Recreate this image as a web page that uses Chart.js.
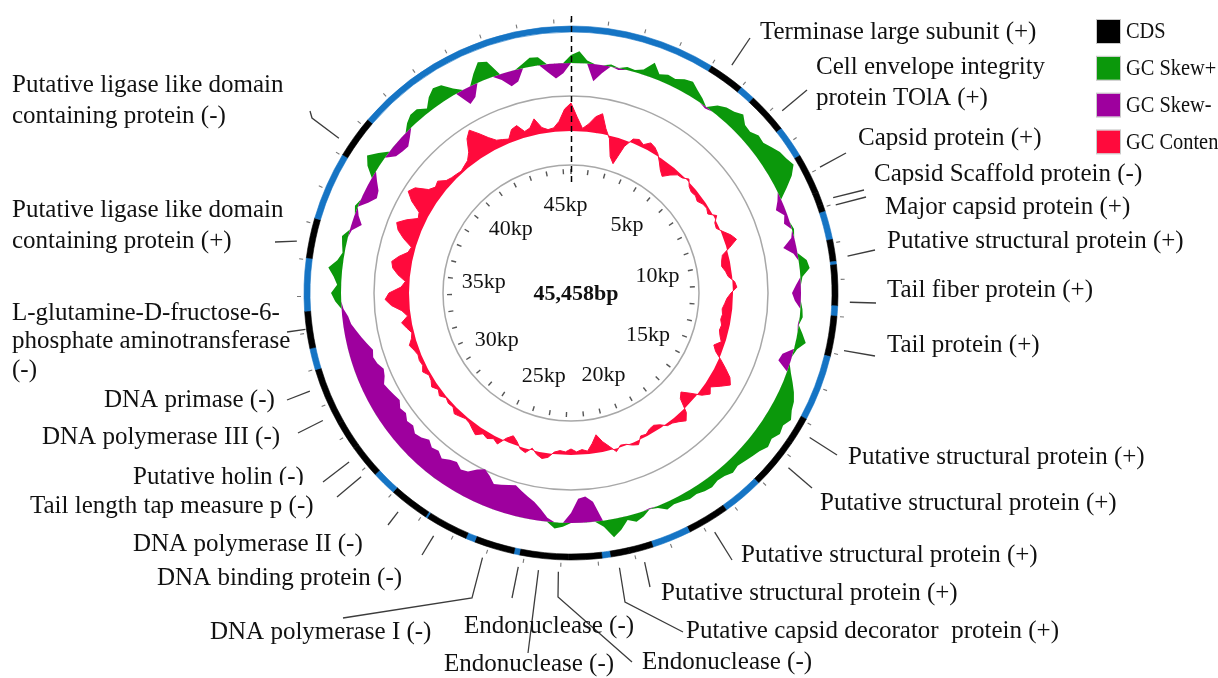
<!DOCTYPE html>
<html>
<head>
<meta charset="utf-8">
<title>Phage genome map</title>
<script src="https://cdn.jsdelivr.net/npm/chart.js@4.4.1/dist/chart.umd.min.js"></script>
<style>
  html, body { margin: 0; padding: 0; background: #ffffff; }
  #wrap { position: relative; width: 1218px; height: 678px; overflow: hidden; background: #ffffff; }
  #wrap canvas { position: absolute; left: 0; top: 0; }
</style>
</head>
<body>
<div id="wrap">
  <canvas id="ring" width="1218" height="678"></canvas>
  <canvas id="map" width="1218" height="678"></canvas>
</div>
<script>
// ---- genome ----
const genomeLength = 45458;

// coding regions [start, end] in bp
const cdsRegions = [
  [4015, 5013], [5442, 6566], [7450, 8561], [8561, 8915], [8915, 9117],
  [9900, 10506], [10594, 11718], [11996, 13107], [14925, 15683], [15683, 17097],
  [18234, 19395], [20469, 21126], [21126, 21656], [21883, 22792], [22792, 24143],
  [24295, 25406], [25658, 26845], [26896, 28007], [28689, 29600], [29600, 30400],
  [30400, 31984], [32578, 33600], [35053, 36152], [38033, 39207]
];

// annotated genes and the locus (bp) each callout points at
const geneNames = [
  'Terminase large subunit (+)',
  'Cell envelope integrity\nprotein TOlA (+)',
  'Capsid protein (+)',
  'Capsid Scaffold protein (-)',
  'Major capsid protein (+)',
  'Putative structural protein (+)',
  'Tail fiber protein (+)',
  'Tail protein (+)',
  'Putative structural protein (+)',
  'Putative structural protein (+)',
  'Putative structural protein (+)',
  'Putative structural protein (+)',
  'Putative capsid decorator  protein (+)',
  'Endonuclease (-)',
  'Endonuclease (-)',
  'Endonuclease (-)',
  'DNA polymerase I (-)',
  'DNA binding protein (-)',
  'DNA polymerase II (-)',
  'Tail length tap measure p (-)',
  'Putative holin (-)',
  'DNA polymerase III (-)',
  'DNA primase (-)',
  'L-glutamine-D-fructose-6-\nphosphate aminotransferase\n(-)',
  'Putative ligase like domain\ncontaining protein (+)',
  'Putative ligase like domain\ncontaining protein (-)'
];
const geneLoci = [
  4445, 6213, 7980, 8839, 9041, 10405, 11604, 12867, 15304, 16264,
  18815, 20797, 21466, 23057, 23575, 24105, 25065, 26454, 27565, 28891,
  29383, 30659, 31492, 33109, 35444, 38349
];

// sliding-window GC skew (per mille), 180 windows from 0 bp
const gcSkew = [
  40, 60, 15, -85, -40, 10, -10, 15, 10, 25,
  75, 30, 45, 40, 60, 70, 45, 25, -10, 40,
  60, 70, 90, 60, 55, 75, 70, 90, 110, 120,
  135, 100, 50, -20, -45, -15, -30, 10, -15, -65,
  -20, 40, 50, 10, -25, -45, -30, 10, 15, -5,
  25, 50, 15, -50, -60, 20, 45, 70, 90, 100,
  120, 100, 110, 90, 100, 80, 70, 60, 50, 60,
  45, 40, 50, 45, 35, 40, 30, 25, 35, 10,
  -5, 25, 40, 20, 60, 90, 30, -100, -130, -120,
  -50, 20, 30, -20, -60, -90, -110, -130, -150, -140,
  -130, -120, -150, -170, -150, -120, -110, -130, -120, -100,
  -120, -110, -130, -110, -100, -120, -110, -130, -120, -140,
  -130, -120, -110, -130, -140, -120, -110, -120, -100, -80,
  -60, -40, -30, -10, 30, 50, 20, 40, 70, 30,
  10, 20, 30, -10, -50, -20, 15, -40, -70, -60,
  -30, 50, 80, 40, -40, -50, -55, -30, 30, 50,
  50, 20, 60, 85, 75, 30, -80, -60, 50, 95,
  80, -30, -75, -60, 20, 45, 40, -40, -75, -50
];

// sliding-window GC content (%), same windows
const gcContent = [
  52.6, 49.8, 47.6, 48.6, 50.2, 51.0, 48.2, 46.4, 43.0, 41.8,
  45.8, 47.8, 48.2, 47.6, 48.6, 48.2, 47.4, 46.2, 45.0, 44.2,
  45.4, 46.4, 46.6, 47.4, 46.4, 46.0, 46.2, 45.8, 46.4, 46.6,
  46.2, 47.6, 46.6, 46.4, 47.4, 48.6, 49.4, 47.6, 45.8, 45.4,
  45.2, 45.8, 46.2, 47.4, 47.8, 46.6, 45.8, 45.4, 45.0, 45.2,
  45.0, 45.4, 45.2, 45.6, 46.2, 45.0, 45.8, 47.4, 49.0, 50.6,
  51.4, 49.8, 48.2, 49.0, 47.8, 45.8, 44.2, 45.0, 47.8, 49.0,
  48.2, 47.6, 47.4, 46.4, 45.8, 46.0, 46.6, 46.4, 47.8, 47.4,
  46.8, 46.6, 47.6, 46.2, 45.0, 43.4, 45.0, 46.4, 46.0, 46.4,
  45.8, 46.4, 46.2, 46.6, 47.8, 48.2, 47.6, 46.6, 47.8, 47.4,
  46.2, 45.4, 46.4, 48.2, 47.6, 48.2, 47.8, 48.8, 48.2, 47.6,
  47.4, 47.8, 48.2, 47.4, 47.6, 47.2, 48.0, 47.4, 48.2, 47.6,
  47.4, 48.2, 47.6, 47.8, 47.6, 48.0, 48.6, 47.8, 47.4, 48.2,
  49.0, 47.6, 48.6, 50.6, 51.8, 51.0, 48.6, 47.8, 49.4, 50.6,
  51.0, 49.8, 48.2, 47.8, 49.8, 51.4, 52.2, 50.6, 48.6, 49.0,
  51.4, 53.0, 52.2, 49.8, 49.0, 49.4, 48.2, 47.8, 47.6, 47.4,
  47.8, 48.2, 49.4, 51.8, 53.0, 51.4, 49.8, 48.6, 48.2, 47.8,
  49.4, 49.8, 48.2, 48.6, 50.2, 48.2, 47.6, 47.8, 49.0, 51.4
];
const meanGC = 47.0;

// kb marks printed inside the map
const kbMarks = [5000, 10000, 15000, 20000, 25000, 30000, 35000, 40000, 45000];

// ---- drawing setup (radii are in pixels from the map centre) ----
const COLORS = { cds: '#000000', backbone: '#1574c4', skewPlus: '#0b980b', skewMinus: '#9e009e', gc: '#ff0a3c' };
const SKEW_BASE = 230, SKEW_PX = 0.2;      // px per per-mille
const GC_BASE = 162, GC_PX = 5;            // px per % GC
const RING_OUT = 267, RING_IN = 261;
const PADDING = { left: 0, right: 76, top: 0, bottom: 92 };
const LABEL_FONT = '25px "Liberation Serif", "Times New Roman", serif';
const LEGEND_FONT = '24px "Liberation Serif", "Times New Roman", serif';
const LEGEND_SQUEEZE = 0.85;

// label placement: text anchor (px), leader polyline ends, inner radius of leader
const labelLayout = [
  { x: 760, y: 32, path: [[750, 38]] },
  { x: 816, y: 67, gap: 31, path: [[807, 90]] },
  { x: 858, y: 138, path: [[846, 153]] },
  { x: 874, y: 174, path: [[864, 190]] },
  { x: 885, y: 207, path: [[866, 197]], box: 22 },
  { x: 887, y: 241, path: [[875, 250]] },
  { x: 887, y: 290, path: [[876, 303]] },
  { x: 887, y: 345, path: [[875, 356]] },
  { x: 848, y: 457, path: [[837, 455]] },
  { x: 820, y: 503, path: [[812, 488]] },
  { x: 741, y: 555, path: [[732, 560]] },
  { x: 661, y: 593, path: [[650, 587]] },
  { x: 686, y: 631, path: [[625, 602], [683, 632]] },
  { x: 642, y: 662, path: [[558, 597], [632, 662]] },
  { x: 444, y: 664, path: [[528, 653]] },
  { x: 464, y: 626, path: [[512, 598]] },
  { x: 210, y: 632, path: [[472, 598], [343, 618]] },
  { x: 157, y: 578, path: [[422, 555]] },
  { x: 133, y: 544, path: [[388, 525]] },
  { x: 30, y: 506, path: [[337, 497]], box: 21 },
  { x: 133, y: 477, path: [[323, 482]] },
  { x: 42, y: 437, path: [[298, 433]] },
  { x: 104, y: 400, path: [[287, 400]] },
  { x: 12, y: 313, gap: 28.5, path: [[287, 332]], r0: 268 },
  { x: 12, y: 210, gap: 31, path: [[275, 242]] },
  { x: 12, y: 85, gap: 31, path: [[312, 118], [310, 111]] }
];

const legendItems = [
  ['CDS', COLORS.cds], ['GC Skew+', COLORS.skewPlus], ['GC Skew-', COLORS.skewMinus], ['GC Content', COLORS.gc]
];

// ---- backbone ring with CDS blocks ----
const ringLengths = [], ringColors = [], ringNames = [];
let cursor = 0;
for (const [a, b] of cdsRegions) {
  if (a > cursor) { ringLengths.push(a - cursor); ringColors.push(COLORS.backbone); ringNames.push('intergenic'); }
  ringLengths.push(b - a); ringColors.push(COLORS.cds); ringNames.push('CDS');
  cursor = b;
}
if (cursor < genomeLength) { ringLengths.push(genomeLength - cursor); ringColors.push(COLORS.backbone); ringNames.push('intergenic'); }

new Chart(document.getElementById('ring'), {
  type: 'doughnut',
  data: {
    labels: ringNames,
    datasets: [{ data: ringLengths, backgroundColor: ringColors, borderColor: ringColors, borderWidth: 0.6 }]
  },
  options: {
    responsive: false, animation: false, devicePixelRatio: 1,
    radius: RING_OUT,
    cutout: (RING_IN / RING_OUT * 100) + '%',
    rotation: 0, circumference: 360,
    layout: { padding: PADDING },
    plugins: { legend: { display: false }, tooltip: { enabled: false } },
    events: []
  }
});

// ---- GC skew / GC content tracks + annotation overlay ----
const windowStarts = gcSkew.map((_, i) => Math.round(i * genomeLength / gcSkew.length));

const overlay = {
  id: 'genomeOverlay',
  afterDatasetsDraw(chart) {
    const ctx = chart.ctx;
    const s = chart.scales.r;
    const n = chart.data.labels.length;
    const at = (bp, r) => s.getPointPosition(bp / genomeLength * n, s.getDistanceFromCenterForValue(r));
    ctx.save();

    // kb ticks on the inner circle and outside the backbone
    ctx.strokeStyle = '#555';
    ctx.lineWidth = 1.4;
    for (let bp = 0; bp < genomeLength; bp += 1000) {
      const a = at(bp, 119), b = at(bp, 124);
      ctx.beginPath(); ctx.moveTo(a.x, a.y); ctx.lineTo(b.x, b.y); ctx.stroke();
    }
    ctx.strokeStyle = '#777';
    ctx.lineWidth = 1.1;
    for (let bp = 0; bp < genomeLength; bp += 1000) {
      const a = at(bp, 270), b = at(bp, 274);
      ctx.beginPath(); ctx.moveTo(a.x, a.y); ctx.lineTo(b.x, b.y); ctx.stroke();
    }

    // origin marker
    const o1 = at(0, 111), o2 = at(0, 280);
    ctx.strokeStyle = '#000';
    ctx.lineWidth = 1.5;
    ctx.setLineDash([6, 4]);
    ctx.beginPath(); ctx.moveTo(o1.x + 0.5, o1.y); ctx.lineTo(o2.x + 0.5, o2.y); ctx.stroke();
    ctx.setLineDash([]);

    // kb labels and genome size
    ctx.fillStyle = '#111';
    ctx.textAlign = 'center';
    ctx.textBaseline = 'middle';
    ctx.font = '22px "Liberation Serif", "Times New Roman", serif';
    for (const bp of kbMarks) {
      const p = at(bp, 88);
      ctx.fillText((bp / 1000) + 'kp', p.x, p.y);
    }
    ctx.font = 'bold 22px "Liberation Serif", "Times New Roman", serif';
    ctx.fillText(genomeLength.toLocaleString('en-US') + 'bp', s.xCenter + 5, s.yCenter + 1);

    // leader lines
    ctx.strokeStyle = '#3c3c3c';
    ctx.lineWidth = 1.3;
    geneLoci.forEach((bp, i) => {
      const lay = labelLayout[i];
      const start = at(bp, lay.r0 || 279);
      ctx.beginPath();
      ctx.moveTo(start.x, start.y);
      for (const [x, y] of lay.path) ctx.lineTo(x, y);
      ctx.stroke();
    });

    // gene labels (boxed ones last so their white box sits on top)
    ctx.font = LABEL_FONT;
    ctx.textAlign = 'left';
    const order = geneNames.map((_, i) => i).sort((a, b) => (labelLayout[a].box ? 1 : 0) - (labelLayout[b].box ? 1 : 0));
    for (const i of order) {
      const lay = labelLayout[i];
      const lines = geneNames[i].split('\n');
      if (lay.box) {
        const w = Math.max(...lines.map(t => ctx.measureText(t).width));
        ctx.fillStyle = '#fff';
        ctx.fillRect(lay.x - 4, lay.y - lay.box, w + 8, lay.box + 16);
      }
      ctx.fillStyle = '#111';
      lines.forEach((t, k) => ctx.fillText(t, lay.x, lay.y + k * (lay.gap || 30)));
    }

    // legend
    legendItems.forEach(([name, color], k) => {
      const y = 20 + k * 36.8;
      ctx.fillStyle = color;
      ctx.fillRect(1097, y, 23, 23);
      ctx.strokeStyle = '#c8c8c8';
      ctx.lineWidth = 1;
      ctx.strokeRect(1096.5, y - 0.5, 24, 24);
      ctx.save();
      ctx.translate(1126, y + 12);
      ctx.scale(LEGEND_SQUEEZE, 1);
      ctx.font = LEGEND_FONT;
      ctx.fillStyle = '#111';
      ctx.fillText(name, 0, 0);
      ctx.restore();
    });
    ctx.restore();
  }
};

new Chart(document.getElementById('map'), {
  type: 'radar',
  data: {
    labels: windowStarts,
    datasets: [
      {
        label: 'GC Skew+',
        data: gcSkew.map(v => SKEW_BASE + Math.max(v, 0) * SKEW_PX),
        fill: { value: SKEW_BASE },
        backgroundColor: COLORS.skewPlus, borderWidth: 0, pointRadius: 0
      },
      {
        label: 'GC Skew-',
        data: gcSkew.map(v => SKEW_BASE + Math.min(v, 0) * SKEW_PX),
        fill: { value: SKEW_BASE },
        backgroundColor: COLORS.skewMinus, borderWidth: 0, pointRadius: 0
      },
      {
        label: 'GC Content',
        data: gcContent.map(v => GC_BASE + (v - meanGC) * GC_PX),
        fill: { value: GC_BASE },
        backgroundColor: COLORS.gc, borderColor: COLORS.gc, borderWidth: 1, pointRadius: 0
      }
    ]
  },
  options: {
    responsive: false, animation: false, devicePixelRatio: 1,
    layout: { padding: PADDING },
    elements: { line: { tension: 0 } },
    plugins: { legend: { display: false }, tooltip: { enabled: false } },
    events: [],
    scales: {
      r: {
        min: 0, max: 293, startAngle: 0,
        ticks: { display: false },
        pointLabels: { display: false },
        angleLines: { display: false },
        grid: { circular: true, color: '#a8a8a8', lineWidth: 1.5 },
        afterBuildTicks: scale => { scale.ticks = [{ value: 0 }, { value: 128 }, { value: 197 }]; }
      }
    }
  },
  plugins: [overlay]
});
</script>
</body>
</html>
